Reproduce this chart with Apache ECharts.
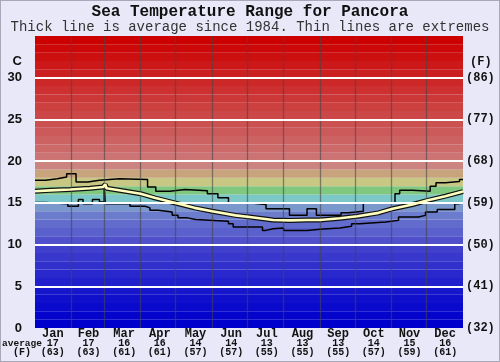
<!DOCTYPE html>
<html><head><meta charset="utf-8">
<script src="https://cdn.jsdelivr.net/npm/echarts@6/dist/echarts.min.js"></script>
<style>
html,body{margin:0;padding:0;background:#e8e8f8;}
#c{width:500px;height:362px;position:absolute;left:0;top:0;}
#b{width:500px;height:362px;position:absolute;left:0;top:0;box-sizing:border-box;border:1px solid #a8a8b8;pointer-events:none;}
</style>
</head><body><div id="c"></div><div id="b"></div>
<script>
const months=['Jan','Feb','Mar','Apr','May','Jun','Jul','Aug','Sep','Oct','Nov','Dec'];
const monthAvgC=[17,17,16,16,14,14,13,13,13,14,15,16];
const monthAvgF=[63,63,61,61,57,57,55,55,55,57,59,61];
const monthStartDays=[31,59,90,120,151,181,212,243,273,304,334];
const yTicks=[5,10,15,20,25,30];

const avgDays=[0,13,30,47,58,60,61,77,90,102,119,136,151,171,183,203,218,232,243,260,275,293,305,322,335,350,365];
const avgTemps=[16.4,16.5,16.6,16.75,16.9,17.2,16.75,16.4,16.1,15.6,15.0,14.4,14.0,13.5,13.3,12.95,12.9,12.95,12.95,13.15,13.4,13.8,14.3,14.8,15.3,15.8,16.35];

const maxDays=[0,9,19,27,35,45,55,72,96,103,115,128,147,156,165,182,197,217,232,240,261,267,280,307,311,322,337,342,350,362,365];
const maxTemps=[17.7,17.9,18.1,18.5,17.5,17.7,17.9,17.8,16.9,16.4,16.6,16.45,16.1,15.6,15.0,14.8,14.3,13.5,14.3,13.5,13.8,14.0,15.0,16.1,16.5,16.4,17.0,17.4,17.55,17.8,17.8];

const minDays=[0,9,28,37,41,49,55,59,60,81,94,98,105,117,122,130,137,165,169,194,197,203,212,232,243,260,270,277,299,310,327,333,343,358,361,365];
const minTemps=[15.05,14.9,14.6,15.4,14.9,15.4,15.1,17.0,14.9,14.6,14.4,14.1,13.9,13.5,13.2,13.0,12.8,12.5,12.1,11.7,11.9,12.0,11.7,11.85,12.0,12.2,12.5,12.7,12.9,13.3,13.5,13.9,14.2,14.9,15.0,15.0];

// background band colours, one per degree from 0 up to 35
const bandColors=['#0000cc','#0404cc','#0a0acc','#1010cc','#1616cc','#2020cc','#2828cc','#3030cc','#3838cc','#4040cc',
 '#5050cc','#5a60cc','#626ccc','#6c7ccc','#7a98cc','#7cc8c8','#80c880','#c8c884','#c8a47c','#cc8480',
 '#cc7474','#cc6a6a','#cc6262','#cc5a5a','#cc5252','#cc4848','#cc4040','#cc3838','#cc3030','#cc2828',
 '#cc2020','#cc1818','#cc1010','#cc0808','#cc0000'];

const zip=(a,b)=>a.map((v,i)=>[v,b[i]]);
const mono='"Liberation Mono","Courier New",monospace';

const chart=echarts.init(document.getElementById('c'),null,{renderer:'canvas'});
chart.setOption({
  animation:false,
  backgroundColor:'transparent',
  title:[
    {text:'Sea Temperature Range for Pancora',left:'center',top:4,padding:0,
     textStyle:{fontFamily:mono,fontWeight:'bold',fontSize:16,color:'#111'}},
    {text:'Thick line is average since 1984. Thin lines are extremes',left:'center',top:20,padding:0,
     textStyle:{fontFamily:mono,fontWeight:'normal',fontSize:14,color:'#333'}}
  ],
  grid:{left:35,right:37,top:36,bottom:34,containLabel:false},
  xAxis:[
    {type:'value',min:0,max:365,show:false},
    {type:'category',data:months,position:'bottom',boundaryGap:true,
     axisLine:{show:false},axisTick:{show:false},splitLine:{show:false},
     axisLabel:{interval:0,margin:1,color:'#111',
       formatter:(v,i)=>'{m|'+v+'}\n{n|'+monthAvgC[i]+'}\n{n|('+monthAvgF[i]+')}',
       rich:{m:{fontFamily:mono,fontWeight:'bold',fontSize:12,lineHeight:9.5,color:'#111'},
             n:{fontFamily:mono,fontWeight:'bold',fontSize:10,lineHeight:9.5,color:'#111'}}}}
  ],
  yAxis:[
    {type:'value',min:0,max:35,interval:5,position:'left',
     axisLine:{show:false},axisTick:{show:false},splitLine:{show:false},
     axisLabel:{margin:13,color:'#111',fontFamily:'"Liberation Sans",Arial,sans-serif',fontWeight:'bold',fontSize:13,
       formatter:v=>v===35?'':String(v)}},
    {type:'value',min:0,max:35,interval:5,position:'right',
     axisLine:{show:false},axisTick:{show:false},splitLine:{show:false},
     axisLabel:{margin:3,color:'#111',fontFamily:mono,fontWeight:'bold',fontSize:12,
       formatter:v=>v===35?'':'('+Math.round(v*9/5+32)+')'}}
  ],
  graphic:[
    {type:'text',style:{x:22,y:61,text:'C',textAlign:'right',textVerticalAlign:'middle',
      fontFamily:'"Liberation Sans",Arial,sans-serif',fontWeight:'bold',fontSize:13,fill:'#111'}},
    {type:'text',style:{x:470,y:62,text:'(F)',textAlign:'left',textVerticalAlign:'middle',
      fontFamily:mono,fontWeight:'bold',fontSize:12,fill:'#111'}},
    {type:'text',style:{x:22,y:343.5,text:'average',textAlign:'center',textVerticalAlign:'middle',
      fontFamily:mono,fontWeight:'bold',fontSize:9.5,fill:'#111'}},
    {type:'text',style:{x:22,y:352.5,text:'(F)',textAlign:'center',textVerticalAlign:'middle',
      fontFamily:mono,fontWeight:'bold',fontSize:10,fill:'#111'}}
  ],
  series:[
    {type:'line',xAxisIndex:0,yAxisIndex:0,data:[],z:1,silent:true,
     markArea:{silent:true,data:bandColors.map((c,i)=>[{yAxis:i,itemStyle:{color:c}},{yAxis:i+1}])}},
    {type:'line',xAxisIndex:0,yAxisIndex:0,data:[],z:2,silent:true,
     markLine:{silent:true,symbol:'none',label:{show:false},
       data:[
         ...monthStartDays.map(d=>({xAxis:d,lineStyle:{color:'rgba(70,70,70,0.6)',width:1.3,type:'solid'}})),
         ...yTicks.map(v=>({yAxis:v,lineStyle:{color:'#ffffff',width:2,type:'solid'}}))
       ]}},
    {type:'line',xAxisIndex:0,yAxisIndex:0,data:zip(maxDays,maxTemps),step:'end',z:3,
     showSymbol:false,lineStyle:{color:'#000',width:1.5}},
    {type:'line',xAxisIndex:0,yAxisIndex:0,data:zip(minDays,minTemps),step:'end',z:3,
     showSymbol:false,lineStyle:{color:'#000',width:1.5}},
    {type:'line',xAxisIndex:0,yAxisIndex:0,data:zip(avgDays,avgTemps),z:4,
     showSymbol:false,lineStyle:{color:'#111',width:5}},
    {type:'line',xAxisIndex:0,yAxisIndex:0,data:zip(avgDays,avgTemps),z:5,
     showSymbol:false,lineStyle:{color:'#ffffc0',width:2.6}}
  ]
});
</script>
</body></html>
